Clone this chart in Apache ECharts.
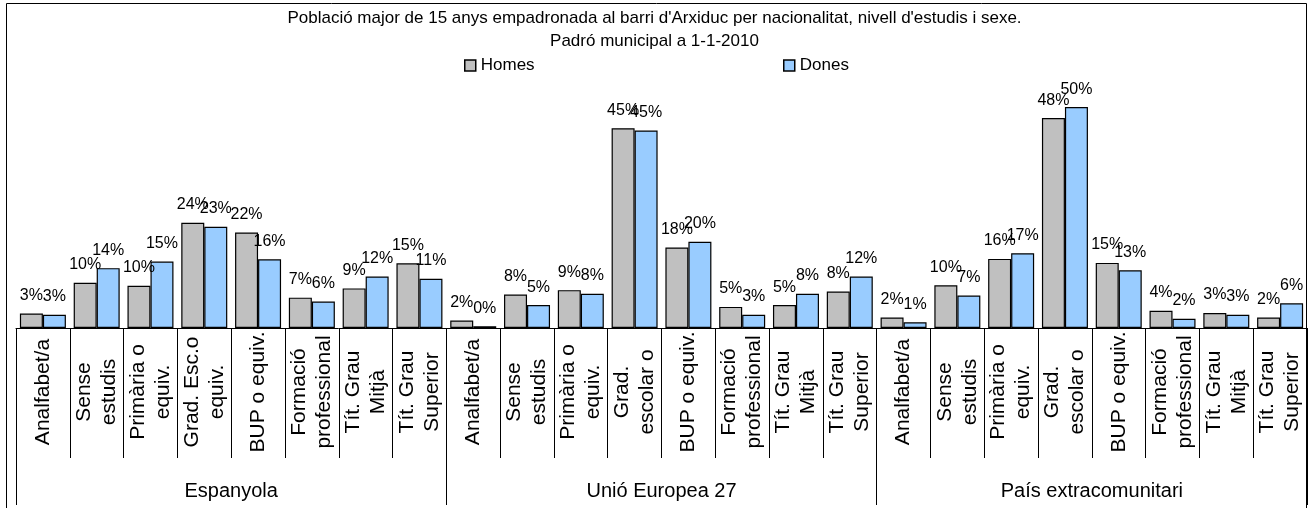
<!DOCTYPE html>
<html>
<head>
<meta charset="utf-8">
<title>Població per nacionalitat i nivell d'estudis</title>
<script src="https://cdn.jsdelivr.net/npm/echarts/dist/echarts.min.js"></script>
<style>
  html, body { margin: 0; padding: 0; background: #fff; }
  #chart { width: 1309px; height: 508px; }
</style>
</head>
<body>
<div id="chart"></div>
<script>
// grups de nacionalitat
var grups = ["Espanyola", "Unió Europea 27", "País extracomunitari"];

// nivells d'estudis (els textos del gràfic original, amb els salts de línia)
var nivellsEspanyola = ["Analfabet/a", "Sense\nestudis", "Primària o\nequiv.", "Grad. Esc.o\nequiv.", "BUP o equiv.", "Formació\nprofessional", "Tít. Grau\nMitjà", "Tít. Grau\nSuperior"];
var nivellsAltres = ["Analfabet/a", "Sense\nestudis", "Primària o\nequiv.", "Grad.\nescolar o", "BUP o equiv.", "Formació\nprofessional", "Tít. Grau\nMitjà", "Tít. Grau\nSuperior"];

// percentatges (%)
var homesEspanyola = [3.3, 10.3, 9.6, 23.9, 21.7, 6.9, 9.0, 14.7];
var donesEspanyola = [3.0, 13.6, 15.1, 23.0, 15.6, 6.0, 11.7, 11.2];
var homesUE = [1.7, 7.6, 8.6, 45.4, 18.3, 4.8, 5.2, 8.3];
var donesUE = [0.4, 5.2, 7.8, 44.9, 19.6, 3.0, 7.8, 11.7];
var homesExtra = [2.4, 9.7, 15.7, 47.7, 14.8, 3.9, 3.4, 2.4];
var donesExtra = [1.3, 7.4, 17.0, 50.2, 13.1, 2.1, 3.0, 5.6];

var categories = nivellsEspanyola.concat(nivellsAltres, nivellsAltres);
var homes = homesEspanyola.concat(homesUE, homesExtra);
var dones = donesEspanyola.concat(donesUE, donesExtra);

var font = "Liberation Sans, Arial, sans-serif";

var myChart = echarts.init(document.getElementById("chart"));

var barLabel = {
  show: true,
  position: "top",
  distance: 10,
  color: "#000",
  fontSize: 16,
  fontFamily: font,
  formatter: function (p) {
    return Math.round(p.value) + "%";
  },
};

var legendComu = {
  top: 57,
  padding: 0,
  icon: "rect",
  itemWidth: 11,
  itemHeight: 11,
  itemStyle: { borderColor: "#000", borderWidth: 1.5 },
  textStyle: { fontSize: 17, color: "#000", fontFamily: font },
};

var option = {
  animation: false,
  backgroundColor: "#fff",
  textStyle: { fontFamily: font, color: "#000" },
  title: {
    text: "Població major de 15 anys empadronada al barri d'Arxiduc per nacionalitat, nivell d'estudis i sexe.\nPadró municipal a 1-1-2010",
    left: "center",
    top: 2,
    textStyle: {
      fontSize: 17,
      fontWeight: "normal",
      color: "#000",
      lineHeight: 23,
      fontFamily: font,
    },
  },
  legend: [
    Object.assign({ data: ["Homes"], left: 464 }, legendComu),
    Object.assign({ data: ["Dones"], left: 783 }, legendComu),
  ],
  grid: {
    left: 16,
    right: 2,
    top: 64,
    bottom: 180,
  },
  xAxis: [
    {
      type: "category",
      data: categories,
      axisLine: { lineStyle: { color: "#000", width: 1 } },
      axisTick: { show: true, interval: 0, length: 130, lineStyle: { color: "#000" } },
      axisLabel: {
        interval: 0,
        rotate: 90,
        align: "center",
        verticalAlign: "middle",
        margin: 64,
        fontSize: 21,
        lineHeight: 25,
        color: "#000",
        fontFamily: font,
      },
    },
    {
      type: "category",
      data: grups,
      position: "bottom",
      axisLine: { show: false },
      axisTick: { show: true, interval: 0, length: 177, lineStyle: { color: "#000" } },
      axisLabel: {
        interval: 0,
        margin: 163,
        verticalAlign: "middle",
        fontSize: 20,
        color: "#000",
        fontFamily: font,
      },
    },
  ],
  yAxis: {
    type: "value",
    min: 0,
    max: 60,
    show: false,
    splitLine: { show: false },
  },
  series: [
    {
      name: "Homes",
      type: "bar",
      data: homes,
      barWidth: 23,
      barGap: "0%",
      itemStyle: { color: "#C0C0C0", borderColor: "#000", borderWidth: 1.2 },
      label: barLabel,
    },
    {
      name: "Dones",
      type: "bar",
      data: dones,
      barWidth: 23,
      itemStyle: { color: "#99CCFF", borderColor: "#000", borderWidth: 1.2 },
      label: barLabel,
    },
  ],
  graphic: [
    {
      // marc exterior del gràfic
      type: "rect",
      shape: { x: 6.5, y: 3.5, width: 1300, height: 520 },
      style: { fill: "none", stroke: "#000", lineWidth: 1 },
      silent: true,
    },
  ],
};

myChart.setOption(option);
</script>
</body>
</html>
